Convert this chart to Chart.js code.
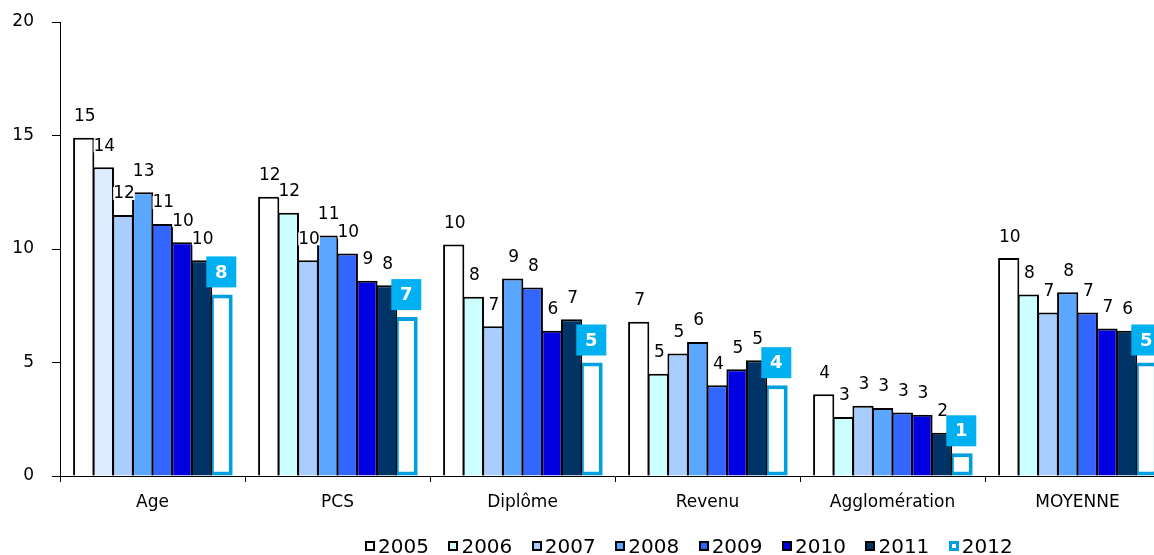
<!DOCTYPE html>
<html lang="fr">
<head>
<meta charset="utf-8">
<script src="https://cdn.jsdelivr.net/npm/chart.js@4/dist/chart.umd.min.js"></script>
<style>
  body { margin: 0; background: #fff; overflow: hidden; width: 1154px; height: 555px; }
  #conteneur { position: absolute; left: 0; top: 0; width: 1170px; height: 555px; }
  #legende {
    position: absolute; left: 365px; top: 534px;
    display: flex; gap: 19.5px;
    font-family: "DejaVu Sans", Verdana, sans-serif; font-size: 20px; color: #000;
  }
  #legende .item { display: flex; align-items: center; gap: 3px; }
  #legende .carre { width: 10px; height: 10px; box-sizing: border-box; border: 2px solid #000; }
</style>
</head>
<body>
<div id="conteneur"><canvas id="graphique"></canvas></div>
<div id="legende"></div>
<script>
// données
const categories = ["Age", "PCS", "Diplôme", "Revenu", "Agglomération", "MOYENNE"];
const annees = ["2005", "2006", "2007", "2008", "2009", "2010", "2011", "2012"];

const s2005 = [14.9, 12.3, 10.2, 6.8, 3.6, 9.6];
const s2006 = [13.6, 11.6, 7.9, 4.5, 2.6, 8.0];
const s2007 = [11.5, 9.5, 6.6, 5.4, 3.1, 7.2];
const s2008 = [12.5, 10.6, 8.7, 5.9, 3.0, 8.1];
const s2009 = [11.1, 9.8, 8.3, 4.0, 2.8, 7.2];
const s2010 = [10.3, 8.6, 6.4, 4.7, 2.7, 6.5];
const s2011 = [9.5, 8.4, 6.9, 5.1, 1.9, 6.4];
const s2012 = [8.0, 7.0, 5.0, 4.0, 1.0, 5.0];

const yTicks = [0, 5, 10, 15, 20];

const couleurs = ["#ffffff", "#ccffff", "#a9cdff", "#5ba6ff", "#3366ff", "#0000e0", "#003366", "#ffffff"];
const bleu2012 = "#00a0e0";
const fondEtiquette2012 = "#00b0f0";
const police = "'DejaVu Sans', Verdana, sans-serif";

const series = [s2005, s2006, s2007, s2008, s2009, s2010, s2011, s2012];

const datasets = series.map((valeurs, i) => {
  const dernier = i === series.length - 1;
  let fond = couleurs[i];
  if (i === 1) {
    // la barre "Age" 2006 a une teinte un peu différente
    fond = valeurs.map((v, j) => j === 0 ? "#ddebff" : couleurs[i]);
  }
  return {
    label: annees[i],
    data: valeurs,
    backgroundColor: fond,
    borderColor: dernier ? bleu2012 : "#000",
    borderWidth: dernier ? 4 : 2,
    borderSkipped: dernier ? false : "start",
    barPercentage: dernier ? 1.16 : 1.08,
    categoryPercentage: 0.85
  };
});

// étiquettes de valeurs au-dessus des barres
const etiquettes = {
  id: "etiquettes",
  afterDatasetsDraw(chart) {
    const ctx = chart.ctx;
    ctx.save();
    chart.data.datasets.forEach((ds, i) => {
      const meta = chart.getDatasetMeta(i);
      meta.data.forEach((barre, j) => {
        const texte = String(Math.round(ds.data[j]));
        if (i === chart.data.datasets.length - 1) {
          const cx = barre.x;
          const bas = barre.y - 7;
          ctx.fillStyle = fondEtiquette2012;
          ctx.fillRect(cx - 15, bas - 31, 30, 31);
          ctx.fillStyle = "#fff";
          ctx.font = "bold 18px " + police;
          ctx.textAlign = "center";
          ctx.textBaseline = "middle";
          ctx.fillText(texte, cx, bas - 14.5);
        } else {
          const cx = barre.x + 1;
          const cy = barre.y - 22;
          ctx.font = "17px " + police;
          const w = ctx.measureText(texte).width;
          ctx.fillStyle = "#fff";
          ctx.fillRect(cx - w / 2, cy - 6, w, 13);
          ctx.fillStyle = "#000";
          ctx.textAlign = "center";
          ctx.textBaseline = "middle";
          ctx.fillText(texte, cx, cy + 1);
        }
      });
    });
    ctx.restore();
  }
};

new Chart(document.getElementById("graphique"), {
  type: "bar",
  data: { labels: categories, datasets: datasets },
  options: {
    responsive: true,
    maintainAspectRatio: false,
    animation: false,
    layout: { padding: { top: 22, left: 0, right: 0, bottom: 0 } },
    plugins: {
      legend: { display: false },
      tooltip: { enabled: false }
    },
    scales: {
      x: {
        grid: { display: true, drawOnChartArea: false, drawTicks: true, tickLength: 6, color: "#000", offset: true },
        border: { display: true, color: "#000", width: 1 },
        ticks: { color: "#000", font: { family: police, size: 17 }, padding: 10, maxRotation: 0 },
        afterFit: (s) => { s.height = 79; }
      },
      y: {
        min: 0,
        max: 20,
        afterBuildTicks: (s) => { s.ticks = yTicks.map(v => ({ value: v })); },
        grid: { display: true, drawOnChartArea: false, drawTicks: true, tickLength: 8, color: "#000" },
        border: { display: true, color: "#000", width: 1 },
        ticks: { color: "#000", font: { family: police, size: 17 }, padding: 18 },
        afterFit: (s) => {
          s.width = 60;
          s.paddingTop = 0;
          s.paddingBottom = 0;
        }
      }
    }
  },
  plugins: [etiquettes]
});

// légende en HTML
const legende = document.getElementById("legende");
annees.forEach((annee, i) => {
  const item = document.createElement("div");
  item.className = "item";
  const carre = document.createElement("span");
  carre.className = "carre";
  carre.style.background = couleurs[i];
  if (i === annees.length - 1) {
    carre.style.border = "3px solid " + bleu2012;
  }
  const txt = document.createElement("span");
  txt.textContent = annee;
  item.appendChild(carre);
  item.appendChild(txt);
  legende.appendChild(item);
});
</script>
</body>
</html>
